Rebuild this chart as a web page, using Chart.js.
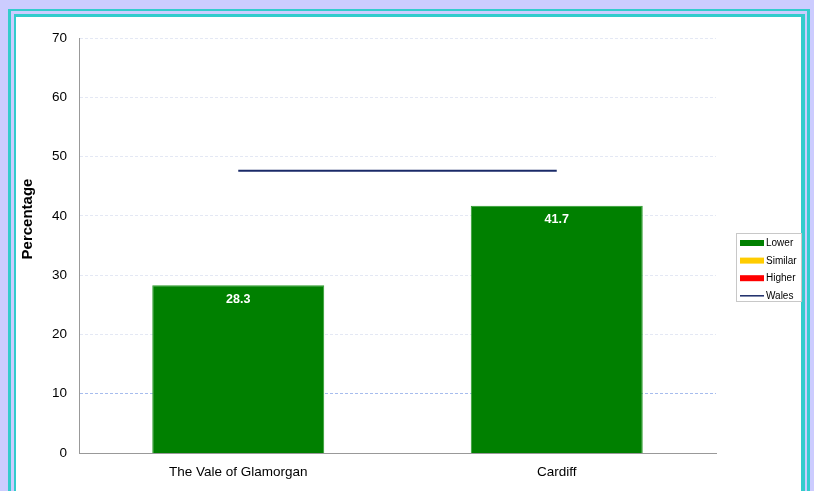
<!DOCTYPE html>
<html>
<head>
<meta charset="utf-8">
<title>Percentage by area</title>
<script src="https://cdn.jsdelivr.net/npm/chart.js@4/dist/chart.umd.min.js"></script>
<style>
    html, body {
        margin: 0;
        padding: 0;
        width: 814px;
        height: 491px;
        overflow: hidden;
        background: #ccccff;
        font-family: "Liberation Sans", Arial, sans-serif;
    }
    /* Frame: teal / light / teal bands */
    .frame-outer {
        position: absolute;
        left: 8px; top: 9px; width: 802px; height: 500px;
        background: #33cccc;
    }
    .frame-mid {
        position: absolute;
        left: 11px; top: 11px; width: 796px; height: 500px;
        background: #ccccff;
    }
    .frame-inner {
        position: absolute;
        left: 14px; top: 14px; width: 791px; height: 500px;
        background: #33cccc;
    }
    .panel {
        position: absolute;
        left: 16px; top: 17px; width: 785px; height: 500px;
        background: #ffffff;
    }
    #chartWrap {
        position: absolute;
        left: 0; top: 0; width: 814px; height: 491px;
    }
</style>
</head>
<body>
<div class="frame-outer"></div>
<div class="frame-mid"></div>
<div class="frame-inner"></div>
<div class="panel"></div>
<div id="chartWrap"><canvas id="rateChart" width="814" height="491"></canvas></div>

<script>
/* ============================================
   Chart data
============================================ */
const areas = ['The Vale of Glamorgan', 'Cardiff'];
const lowerValues = [28.3, 41.7];
const similarValues = [null, null];
const higherValues = [null, null];
const walesValues = [47.6, 47.6];
const yTicks = [0, 10, 20, 30, 40, 50, 60, 70];
const yTitle = 'Percentage';

const FONT = '"Liberation Sans", Arial, sans-serif';
const COLORS = {
    lower: '#008000',
    similar: '#ffcc00',
    higher: '#ff0000',
    wales: '#1a2a68'
};

/**
 * Labels inside the top of each bar
 */
const barLabels = {
    id: 'barLabels',
    afterDatasetsDraw(chart) {
        const ctx = chart.ctx;
        ctx.save();
        ctx.font = 'bold 12.5px ' + FONT;
        ctx.fillStyle = '#ffffff';
        ctx.textAlign = 'center';
        ctx.textBaseline = 'middle';
        chart.data.datasets.forEach((ds, i) => {
            if (ds.type === 'line') return;
            const meta = chart.getDatasetMeta(i);
            meta.data.forEach((bar, j) => {
                const v = ds.data[j];
                if (v === null || v === undefined) return;
                ctx.fillText(v.toFixed(1), bar.x, bar.y + 14);
            });
        });
        ctx.restore();
    }
};

/**
 * Y axis title (sits a bit above the middle of the axis)
 */
const axisTitle = {
    id: 'axisTitle',
    afterDraw(chart) {
        const ctx = chart.ctx;
        ctx.save();
        ctx.translate(28, 219);
        ctx.rotate(-Math.PI / 2);
        ctx.font = 'bold 15px ' + FONT;
        ctx.fillStyle = '#000000';
        ctx.textAlign = 'center';
        ctx.textBaseline = 'middle';
        ctx.fillText(yTitle, 0, 0);
        ctx.restore();
    }
};

/**
 * Boxed legend on the right side
 */
const sideLegend = {
    id: 'sideLegend',
    afterDraw(chart) {
        const ctx = chart.ctx;
        const x = 736, y = 233, w = 66, h = 69;
        ctx.save();
        ctx.fillStyle = '#ffffff';
        ctx.fillRect(x, y, w, h);
        ctx.strokeStyle = '#c8c8c8';
        ctx.lineWidth = 1;
        ctx.strokeRect(x + 0.5, y + 0.5, w - 1, h - 1);

        ctx.font = '10px ' + FONT;
        ctx.textBaseline = 'middle';
        ctx.textAlign = 'left';
        chart.data.datasets.forEach((ds, i) => {
            const cy = y + 10 + i * 17.6;
            if (ds.type === 'line') {
                ctx.strokeStyle = ds.borderColor;
                ctx.lineWidth = 1.5;
                ctx.beginPath();
                ctx.moveTo(x + 4, cy);
                ctx.lineTo(x + 28, cy);
                ctx.stroke();
            } else {
                ctx.fillStyle = ds.backgroundColor;
                ctx.fillRect(x + 4, cy - 3, 24, 6);
            }
            ctx.fillStyle = '#000000';
            ctx.fillText(ds.label, x + 30, cy + 0.5);
        });
        ctx.restore();
    }
};

const rateCtx = document.getElementById('rateChart');
const rateChart = new Chart(rateCtx, {
    data: {
        labels: areas,
        datasets: [
            {
                type: 'bar',
                label: 'Lower',
                data: lowerValues,
                backgroundColor: COLORS.lower,
                borderColor: '#2a9a2a',
                borderWidth: 1,
                grouped: false,
                categoryPercentage: 1,
                barPercentage: 0.54,
                order: 2
            },
            {
                type: 'bar',
                label: 'Similar',
                data: similarValues,
                backgroundColor: COLORS.similar,
                grouped: false,
                categoryPercentage: 1,
                barPercentage: 0.54,
                order: 2
            },
            {
                type: 'bar',
                label: 'Higher',
                data: higherValues,
                backgroundColor: COLORS.higher,
                grouped: false,
                categoryPercentage: 1,
                barPercentage: 0.54,
                order: 2
            },
            {
                type: 'line',
                label: 'Wales',
                data: walesValues,
                borderColor: COLORS.wales,
                borderWidth: 2,
                pointRadius: 0,
                fill: false,
                order: 1
            }
        ]
    },
    options: {
        responsive: false,
        animation: false,
        devicePixelRatio: 1,
        layout: {
            padding: { left: 0, top: 38, right: 98, bottom: 0 }
        },
        plugins: {
            legend: { display: false },
            tooltip: { enabled: false }
        },
        scales: {
            x: {
                offset: true,
                grid: { display: false, drawTicks: false },
                border: { display: true, color: '#999999', width: 1 },
                ticks: {
                    color: '#000000',
                    padding: 11,
                    font: { family: FONT, size: 13.5 }
                },
                afterFit(scale) {
                    scale.height = 38;
                }
            },
            y: {
                min: 0,
                max: 70,
                afterBuildTicks(scale) {
                    scale.ticks = yTicks.map(v => ({ value: v }));
                },
                grid: {
                    drawTicks: false,
                    color: (c) => (c.tick && c.tick.value === 10) ? '#a6bcee' : '#e4e8f4',
                    lineWidth: (c) => (c.tick && c.tick.value === 0) ? 0 : 1
                },
                border: { display: true, color: '#999999', width: 1, dash: [3, 2] },
                ticks: {
                    color: '#000000',
                    padding: 12,
                    font: { family: FONT, size: 13.5 }
                },
                title: { display: false },
                afterFit(scale) {
                    scale.width = 79;
                }
            }
        }
    },
    plugins: [barLabels, axisTitle, sideLegend]
});
</script>
</body>
</html>
